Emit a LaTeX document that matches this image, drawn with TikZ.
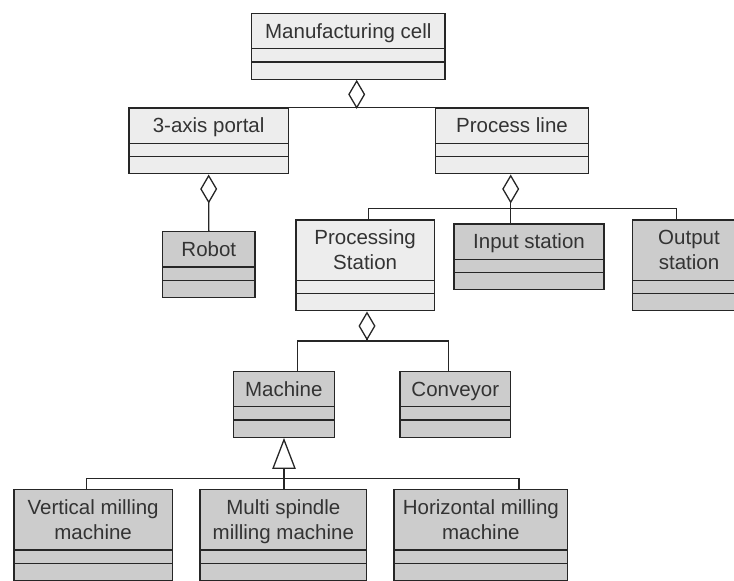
\documentclass[tikz,border=0pt]{standalone}
\usepackage{fontspec}
\setmainfont{Liberation Sans}
\usetikzlibrary{shapes.multipart,arrows.meta}
\renewcommand{\arraystretch}{0}
\newcommand{\tstrut}{\rule[-2.6pt]{0pt}{12.5pt}}
\newcommand{\slots}{\nodepart{two}\rule{0pt}{1.3pt}\nodepart{three}\rule{0pt}{3.4pt}}
\newcommand{\twoline}[2]{\begin{tabular}{@{}c@{}}\tstrut#1\\\tstrut#2\end{tabular}}

\begin{document}
\begin{tikzpicture}[x=0.5pt,y=-0.5pt,
line width=0.65pt,
cls/.style={rectangle split, rectangle split parts=3,
draw=black!85, text=black!80, inner xsep=0pt, inner ysep=2.3pt,
font=\fontsize{10.25}{12.5}\selectfont, anchor=north},
light/.style={cls, fill=black!7},
dark/.style={cls, fill=black!20},
agg/.style={draw=black!85, -{Diamond[open,length=14.5pt,width=8.5pt]}},
gen/.style={draw=black!85, -{Triangle[open,length=15.5pt,width=11.7pt]}},
link/.style={draw=black!85}]
\useasboundingbox (0,0) rectangle (734,581);
% classes
\node[light, minimum width=96.65pt] (cell) at (348.35,12.7) {\tstrut Manufacturing cell\slots};
\node[light, minimum width=79.65pt] (portal) at (208.65,107.3) {\tstrut 3-axis portal\slots};
\node[light, minimum width=76.3pt] (pline) at (512,107.3) {\tstrut Process line\slots};
\node[dark, minimum width=46.15pt] (robot) at (208.85,231) {\tstrut Robot\slots};
\node[light, minimum width=69.15pt] (pstation) at (365.15,219.3) {\twoline{Processing}{Station}\slots};
\node[dark, minimum width=75pt] (input) at (529,223.3) {\tstrut Input station\slots};
\node[dark, minimum width=56.3pt] (output) at (689,219.3) {\twoline{Output}{station}\slots};
\node[dark, minimum width=50.5pt] (machine) at (283.8,370.7) {\tstrut Machine\slots};
\node[dark, minimum width=55.35pt] (conveyor) at (455.35,370.7) {\tstrut Conveyor\slots};
\node[dark, minimum width=79.15pt] (vmill) at (93.15,489) {\twoline{Vertical milling}{machine}\slots};
\node[dark, minimum width=83.35pt] (mspindle) at (283.35,489) {\twoline{Multi spindle}{milling machine}\slots};
\node[dark, minimum width=86.85pt] (hmill) at (480.85,489) {\twoline{Horizontal milling}{machine}\slots};
% junctions
\coordinate (j1) at (356.7,107.3);
\coordinate (j2) at (510.7,208.3);
\coordinate (j3) at (367,341);
\coordinate (j4) at (284,478.3);
% aggregation
\draw[link] (portal.north east) -- (pline.north west);
\draw[agg] (j1) -- (j1 |- cell.south);
\draw[agg] (robot.north) -- (portal.south);
\draw[agg] (j2) -- (j2 |- pline.south);
\draw[link] (j2) -- (j2 |- input.north);
\draw[link] ([xshift=1.6pt]pstation.north) |- (j2) -| ([xshift=-6.15pt]output.north);
\draw[agg] (j3) -- (j3 |- pstation.south);
\draw[link] ([xshift=6.75pt]machine.north) |- (j3) -| ([xshift=-3.5pt]conveyor.north);
% generalization
\draw[gen] (j4) -- (j4 |- machine.south);
\draw[link] (j4) -- (j4 |- mspindle.north);
\draw[link] ([xshift=-3.2pt]vmill.north) |- (j4) -| ([xshift=19.1pt]hmill.north);
\end{tikzpicture}
\end{document}
